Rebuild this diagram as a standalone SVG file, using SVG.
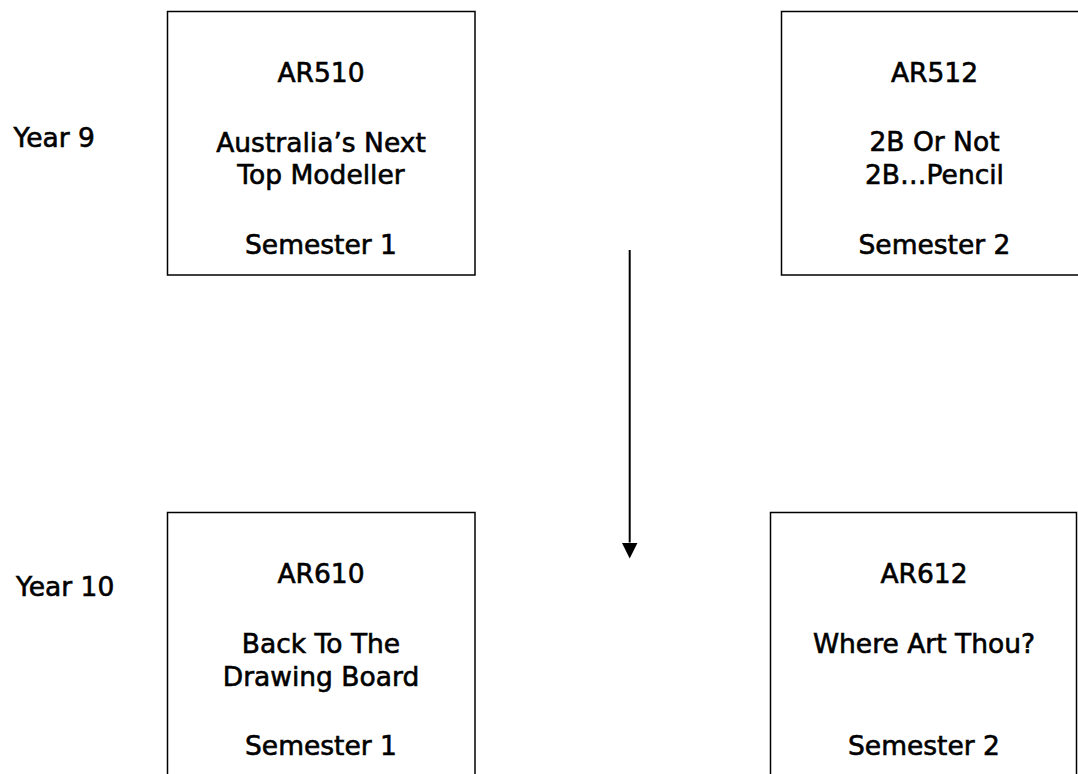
<svg xmlns="http://www.w3.org/2000/svg" width="1078" height="774" viewBox="0 0 1078 774">
  <style>
    .box { fill: #ffffff; stroke: #000000; stroke-width: 1.5; }
    .t { font-family: "DejaVu Sans", "Liberation Sans", sans-serif; font-size: 26.5px; fill: #000000; stroke: #000000; stroke-width: 0.6; }
    .c { text-anchor: middle; }
    .conn { stroke: #000000; stroke-width: 2; fill: none; }
  </style>
  <defs>
    <marker id="arrowhead" markerUnits="userSpaceOnUse" markerWidth="16" markerHeight="16" refX="0" refY="8" orient="auto">
      <path d="M0,0 L16,8 L0,16 z" fill="#000000"/>
    </marker>
  </defs>

  <rect width="1078" height="774" fill="#ffffff"/>

  <!-- year labels -->
  <g id="label-year9">
    <text class="t" x="13.5" y="147">Year 9</text>
  </g>
  <g id="label-year10">
    <text class="t" x="16" y="595.5">Year 10</text>
  </g>

  <!-- Year 9, semester 1 -->
  <g id="AR510">
    <rect class="box" x="167.5" y="11.5" width="307.5" height="263.5"/>
    <text class="t c" x="321" y="81.5">AR510</text>
    <text class="t c" x="321" y="151.5">Australia’s Next</text>
    <text class="t c" x="321" y="184">Top Modeller</text>
    <text class="t c" x="321" y="253.5">Semester 1</text>
  </g>

  <!-- Year 9, semester 2 -->
  <g id="AR512">
    <rect class="box" x="781.5" y="11.5" width="306" height="263.5"/>
    <text class="t c" x="934.5" y="81.5">AR512</text>
    <text class="t c" x="934.5" y="150.5">2B Or Not</text>
    <text class="t c" x="934.5" y="183.5">2B…Pencil</text>
    <text class="t c" x="934.5" y="253.5">Semester 2</text>
  </g>

  <!-- Year 10, semester 1 -->
  <g id="AR610">
    <rect class="box" x="167.5" y="512.5" width="307.5" height="280"/>
    <text class="t c" x="321" y="582.5">AR610</text>
    <text class="t c" x="321" y="652.5">Back To The</text>
    <text class="t c" x="321" y="685.5">Drawing Board</text>
    <text class="t c" x="321" y="755">Semester 1</text>
  </g>

  <!-- Year 10, semester 2 -->
  <g id="AR612">
    <rect class="box" x="770.5" y="512.5" width="306" height="280"/>
    <text class="t c" x="924" y="582.5">AR612</text>
    <text class="t c" x="924" y="652.5">Where Art Thou?</text>
    <text class="t c" x="924" y="755">Semester 2</text>
  </g>

  <!-- connectors -->
  <g id="connectors">
    <line class="conn" x1="629.7" y1="250" x2="629.7" y2="542.5" marker-end="url(#arrowhead)"/>
  </g>
</svg>
